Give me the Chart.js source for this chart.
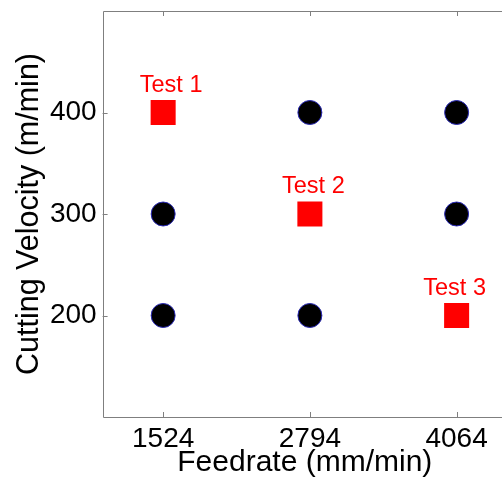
<!DOCTYPE html>
<html>
<head>
<meta charset="utf-8">
<script src="https://cdn.jsdelivr.net/npm/chart.js@4.4.1/dist/chart.umd.min.js"></script>
<style>
  html, body { margin: 0; padding: 0; background: #fff; overflow: hidden; }
  canvas { display: block; }
</style>
</head>
<body>
<canvas id="grafico" width="507" height="477"></canvas>
<script>
  // Eixos: avanço (mm/min) e velocidade de corte (m/min)
  const feedTicks = [1524, 2794, 4064];
  const speedTicks = [200, 300, 400];

  // Combinações da matriz de ensaios que não foram testadas
  const gridFeed = [1524, 1524, 2794, 2794, 4064, 4064];
  const gridSpeed = [300, 200, 400, 200, 400, 300];

  // Ensaios realizados
  const testNames = ['Test 1', 'Test 2', 'Test 3'];
  const testFeed = [1524, 2794, 4064];
  const testSpeed = [400, 300, 200];

  const FONT = '"Liberation Sans", Arial, sans-serif';
  const AXIS_GRAY = '#7f7f7f';

  // sem folga automática dos rótulos: a área do gráfico fica só com o layout.padding
  function semFolga(s) {
    s.paddingTop = 0; s.paddingBottom = 0;
    s.paddingLeft = 0; s.paddingRight = 0;
  }

  // Caixa do gráfico com marcações para dentro (estilo MATLAB) e rótulos dos ensaios
  const moldura = {
    id: 'moldura',
    afterDatasetsDraw(chart) {
      const { ctx, chartArea: a, scales } = chart;
      const tl = 5;
      ctx.save();
      ctx.strokeStyle = AXIS_GRAY;
      ctx.lineWidth = 1;
      ctx.beginPath();
      ctx.rect(Math.round(a.left) + 0.5, Math.round(a.top) + 0.5,
               Math.round(a.right - a.left), Math.round(a.bottom - a.top));
      scales.x.ticks.forEach(t => {
        const px = Math.round(scales.x.getPixelForValue(t.value)) + 0.5;
        ctx.moveTo(px, a.bottom); ctx.lineTo(px, a.bottom - tl);
        ctx.moveTo(px, a.top); ctx.lineTo(px, a.top + tl);
      });
      scales.y.ticks.forEach(t => {
        const py = Math.round(scales.y.getPixelForValue(t.value)) + 0.5;
        ctx.moveTo(a.left, py); ctx.lineTo(a.left + tl, py);
        ctx.moveTo(a.right, py); ctx.lineTo(a.right - tl, py);
      });
      ctx.stroke();

      // rótulos "Test n" acima dos quadrados
      const dx = [8, 3.5, -2];
      ctx.fillStyle = '#ff0000';
      ctx.font = '23.5px ' + FONT;
      ctx.textAlign = 'center';
      ctx.textBaseline = 'alphabetic';
      const meta = chart.getDatasetMeta(1);
      meta.data.forEach((pt, i) => {
        ctx.fillText(testNames[i], pt.x + dx[i], pt.y - 21);
      });
      ctx.restore();
    }
  };

  const ctx = document.getElementById('grafico').getContext('2d');
  new Chart(ctx, {
    type: 'scatter',
    data: {
      datasets: [{
        label: 'Matriz',
        data: gridFeed.map((f, i) => ({ x: f, y: gridSpeed[i] })),
        pointStyle: 'circle',
        pointRadius: 12,
        backgroundColor: '#000000',
        borderColor: '#2a2ab8',
        borderWidth: 1
      }, {
        label: 'Ensaios',
        data: testFeed.map((f, i) => ({ x: f, y: testSpeed[i] })),
        pointStyle: 'rect',
        pointRadius: 17.7,
        backgroundColor: '#ff0000',
        borderColor: '#ff0000',
        borderWidth: 0
      }]
    },
    options: {
      responsive: false,
      animation: false,
      layout: { autoPadding: false, padding: { top: 11, right: 0, bottom: 0, left: 0 } },
      plugins: {
        legend: { display: false },
        tooltip: { enabled: false }
      },
      scales: {
        x: {
          type: 'linear',
          min: 1000,
          max: 4500,
          afterBuildTicks: s => { s.ticks = feedTicks.map(v => ({ value: v })); },
          afterFit: s => { s.height = 60; semFolga(s); },
          grid: { display: false, drawTicks: false },
          border: { display: false },
          ticks: {
            color: '#000',
            padding: 5,
            maxRotation: 0,
            font: { family: FONT, size: 28 },
            callback: v => String(v)
          },
          title: {
            display: true,
            text: 'Feedrate (mm/min)',
            color: '#000',
            font: { family: FONT, size: 30, lineHeight: 1.0 },
            padding: { top: 0, bottom: -1 }
          }
        },
        y: {
          type: 'linear',
          min: 100,
          max: 500,
          afterBuildTicks: s => { s.ticks = speedTicks.map(v => ({ value: v })); },
          afterFit: s => { s.width = 102.6; semFolga(s); },
          grid: { display: false, drawTicks: false },
          border: { display: false },
          ticks: {
            color: '#000',
            padding: 6,
            font: { family: FONT, size: 28 },
            callback: v => String(v)
          },
          title: {
            display: true,
            text: 'Cutting Velocity (m/min)',
            color: '#000',
            font: { family: FONT, size: 30.5, lineHeight: 1.2 },
            padding: { top: 11, bottom: 0 }
          }
        }
      }
    },
    plugins: [moldura]
  });
</script>
</body>
</html>
